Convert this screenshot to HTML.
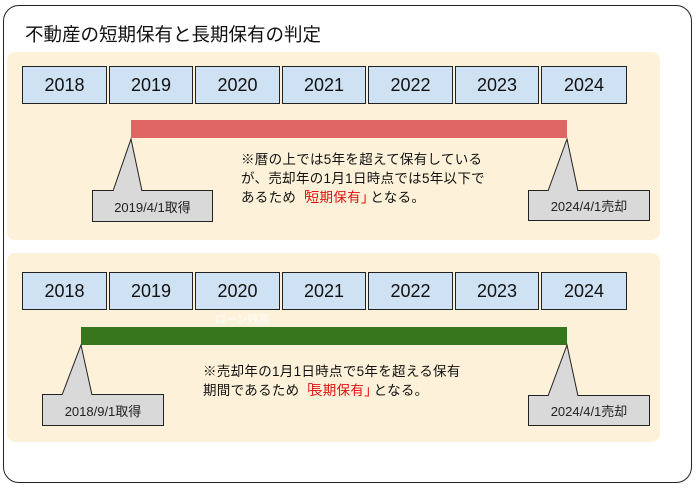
<!DOCTYPE html>
<html><head><meta charset="utf-8"><style>
body{margin:0;width:698px;height:488px;background:#fff;position:relative;overflow:hidden;font-family:"Liberation Sans","Noto Sans CJK JP",sans-serif;}
.a{position:absolute;box-sizing:border-box;}
.yr{position:absolute;box-sizing:border-box;background:#cfe2f3;border:1px solid #222;font-size:18px;color:#111;display:flex;align-items:center;justify-content:center;height:38px;}
.cb{position:absolute;box-sizing:border-box;background:#d9d9d9;border:1px solid #222;font-size:13px;color:#222;display:flex;align-items:center;justify-content:center;}
.t{position:absolute;font-size:13.5px;line-height:19px;color:#111;white-space:nowrap;letter-spacing:0.3px;}
.r{color:#e01010;}
.br{letter-spacing:-4px;}
</style></head><body>
<div class="a" style="left:3px;top:5px;width:689px;height:478px;border:1.3px solid #222;border-radius:16px;"></div>
<div class="a" style="left:25px;top:21px;font-size:18.5px;color:#111;white-space:nowrap;">不動産の短期保有と長期保有の判定</div>
<div class="a" style="left:7px;top:52px;width:653px;height:188px;background:#fdf2d9;border-radius:8px;"></div>
<div class="a" style="left:7px;top:253px;width:653px;height:189px;background:#fdf2d9;border-radius:8px;"></div>

<div class="yr" style="left:22px;top:66px;width:85px">2018</div>
<div class="yr" style="left:109px;top:66px;width:84px">2019</div>
<div class="yr" style="left:195px;top:66px;width:85px">2020</div>
<div class="yr" style="left:282px;top:66px;width:84px">2021</div>
<div class="yr" style="left:368px;top:66px;width:85px">2022</div>
<div class="yr" style="left:455px;top:66px;width:84px">2023</div>
<div class="yr" style="left:541px;top:66px;width:86px">2024</div>

<div class="yr" style="left:22px;top:272px;width:85px">2018</div>
<div class="yr" style="left:109px;top:272px;width:84px">2019</div>
<div class="yr" style="left:195px;top:272px;width:85px">2020</div>
<div class="yr" style="left:282px;top:272px;width:84px">2021</div>
<div class="yr" style="left:368px;top:272px;width:85px">2022</div>
<div class="yr" style="left:455px;top:272px;width:84px">2023</div>
<div class="yr" style="left:541px;top:272px;width:86px">2024</div>

<div class="a" style="left:131px;top:120px;width:436px;height:18px;background:#e06666;"></div>
<div class="a" style="left:215px;top:311px;font-size:11px;color:#fff;opacity:.6;font-weight:bold;">ローン残高</div>
<div class="a" style="left:81px;top:327px;width:486px;height:18px;background:#38761d;"></div>

<div class="cb" style="left:92px;top:190px;width:121px;height:32px">2019/4/1取得</div>
<div class="cb" style="left:528px;top:190px;width:122px;height:31px">2024/4/1売却</div>
<div class="cb" style="left:42px;top:394px;width:122px;height:32px">2018/9/1取得</div>
<div class="cb" style="left:528px;top:395px;width:122px;height:31px">2024/4/1売却</div>

<svg class="a" style="left:0;top:0" width="698" height="488">
<g fill="#d9d9d9" stroke="#222" stroke-width="1">
<polyline points="113,191 131,139 142,191"/>
<polyline points="548,191 567,139 578,191"/>
<polyline points="62,395 81,345 92,395"/>
<polyline points="548,396 567,345 578,396"/>
</g>
</svg>

<div class="t" style="left:241px;top:150px">※暦の上では5年を超えて保有している<br>が、売却年の1月1日時点では5年以下で<br>あるため<span class="r"><span class="br">「</span>短期保有<span class="br">」</span></span>となる。</div>
<div class="t" style="left:203px;top:362px">※売却年の1月1日時点で5年を超える保有<br>期間であるため<span class="r"><span class="br">「</span>長期保有<span class="br">」</span></span>となる。</div>
</body></html>
